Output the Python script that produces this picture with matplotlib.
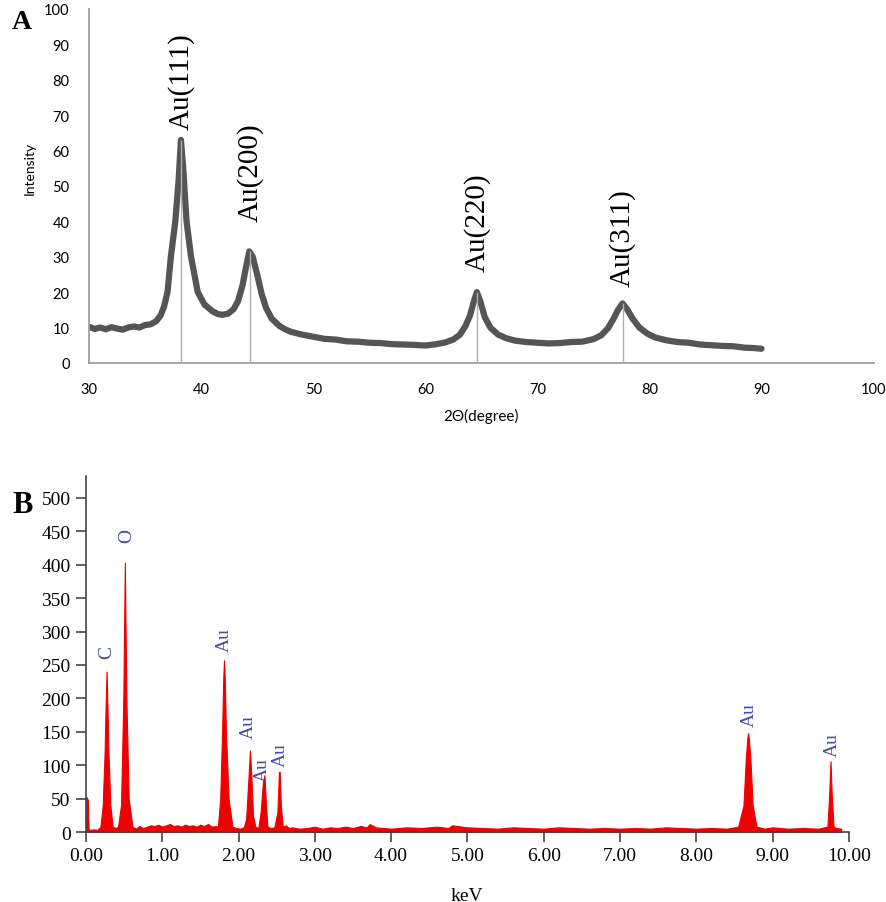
import matplotlib.pyplot as plt
import numpy as np

# XRD pattern (panel A)
xrd_2theta = [30, 30.5, 31, 31.5, 32, 32.5, 33, 33.5, 34, 34.5, 35, 35.5, 36, 36.4, 36.7,
              37.0, 37.3, 37.7, 38.0, 38.2, 38.4, 38.7, 39.1, 39.7, 40.3, 41, 41.5, 41.9,
              42.4, 42.9, 43.3, 43.7, 44.0, 44.3, 44.6, 45.0, 45.4, 45.8, 46.3, 47, 47.5,
              48, 49, 50, 51, 52, 53, 54, 55, 56, 57, 58, 59, 60, 61, 61.8, 62.5, 63.1,
              63.6, 64.0, 64.3, 64.6, 64.9, 65.3, 65.8, 66.5, 67.2, 68, 69, 70, 71, 72, 73,
              74, 75, 75.7, 76.3, 76.8, 77.2, 77.6, 78.0, 78.5, 79.1, 79.8, 80.5, 81.5,
              82.5, 83.5, 84.5, 85.5, 86.5, 87.5, 88.5, 89.3, 90]
xrd_int = [10.2, 9.6, 10.0, 9.5, 10.1, 9.7, 9.4, 10.0, 10.3, 10.0, 10.7, 10.9, 11.8, 13.5, 16,
           20, 30, 40, 52, 63, 55, 40, 30, 20, 16.5, 14.6, 13.8, 13.6,
           13.9, 15.2, 17.5, 22, 27, 31.5, 30, 25, 19.5, 15.5, 12.5, 10.4, 9.5,
           8.8, 8.0, 7.4, 6.8, 6.6, 6.1, 6.0, 5.7, 5.6, 5.3, 5.2, 5.1, 4.9, 5.3, 5.8, 6.6, 8.0,
           10.5, 13.5, 17, 20, 17.5, 13, 10, 8.0, 7.0, 6.3, 5.9, 5.7, 5.5, 5.6, 5.9,
           6.0, 6.7, 7.8, 9.8, 12.5, 15, 16.8, 15.2, 12.5, 10, 8.3, 7.2, 6.4,
           5.9, 5.7, 5.2, 5.0, 4.8, 4.7, 4.3, 4.2, 4.0]
xrd_peaks = [38.2, 44.35, 64.6, 77.6]
xrd_peak_int = [63, 31.5, 20, 16.8]
xrd_labels = ["Au(111)", "Au(200)", "Au(220)", "Au(311)"]
xrd_label_base = [66, 40, 26, 21.7]

# EDX spectrum (panel B)
edx_kev = [0.00, 0.005, 0.01, 0.025, 0.035, 0.05, 0.10, 0.15, 0.19, 0.22, 0.245, 0.26, 0.27,
           0.28, 0.295, 0.32, 0.35, 0.39, 0.42, 0.46, 0.49, 0.51, 0.53, 0.56, 0.61, 0.66,
           0.70, 0.75, 0.80, 0.85, 0.90, 0.95, 1.00, 1.05, 1.10, 1.15, 1.20, 1.25, 1.30,
           1.35, 1.40, 1.45, 1.50, 1.55, 1.60, 1.65, 1.70, 1.73, 1.76, 1.785, 1.80, 1.81,
           1.82, 1.835, 1.87, 1.92, 1.97, 2.02, 2.07, 2.10, 2.13, 2.15, 2.17, 2.19, 2.22,
           2.26, 2.29, 2.32, 2.34, 2.36, 2.38, 2.42, 2.47, 2.51, 2.53, 2.54, 2.555, 2.58,
           2.62, 2.66, 2.70, 2.80, 2.90, 3.00, 3.10, 3.20, 3.30, 3.40, 3.50, 3.60, 3.68,
           3.72, 3.80, 3.90, 4.00, 4.20, 4.40, 4.60, 4.75, 4.80, 5.00, 5.20, 5.40, 5.60,
           5.80, 6.00, 6.20, 6.40, 6.60, 6.80, 7.00, 7.20, 7.40, 7.60, 7.80, 8.00, 8.20,
           8.40, 8.55, 8.62, 8.65, 8.67, 8.68, 8.69, 8.71, 8.74, 8.79, 8.90, 9.00, 9.20,
           9.40, 9.60, 9.72, 9.745, 9.76, 9.775, 9.80, 9.83, 9.90]
edx_counts = [0, 52, 52, 48, 5, 3, 4, 3, 8, 40, 120, 200, 240,
              200, 120, 40, 8, 6, 8, 40, 200, 403, 200, 50, 8, 5,
              9, 6, 8, 10, 9, 11, 8, 10, 12, 9, 10, 8, 11,
              9, 10, 8, 11, 9, 12, 8, 9, 8, 50, 150, 230, 257,
              230, 150, 50, 8, 6, 5, 7, 20, 80, 122, 80, 25, 8,
              6, 30, 75, 85, 40, 8, 6, 7, 30, 90, 90, 40, 8,
              10, 6, 7, 5, 6, 8, 5, 7, 6, 8, 6, 9, 7,
              12, 7, 6, 5, 7, 6, 8, 6, 10, 7, 6, 5, 7,
              6, 5, 7, 6, 5, 6, 5, 6, 5, 7, 6, 5, 6,
              5, 8, 40, 110, 140, 148, 140, 110, 40, 8, 5, 7, 5,
              6, 5, 8, 60, 106, 60, 8, 6, 5]
edx_labels = ["C", "O", "Au", "Au", "Au", "Au", "Au", "Au"]
edx_label_x = [0.27, 0.53, 1.81, 2.13, 2.31, 2.55, 8.69, 9.78]
edx_label_y = [270, 445, 289, 158, 94, 117, 177, 132]

fig = plt.figure(figsize=(8.86, 9.03), dpi=100)
serif = "Liberation Serif"

# ---- panel A ----
ax1 = fig.add_axes([0.1005, 0.597, 0.8855, 0.392])
ax1.plot(xrd_2theta, xrd_int, color="#555555", lw=4.5, solid_capstyle="round",
         solid_joinstyle="round")
ax1.vlines(xrd_peaks, 0, xrd_peak_int, color="#b0b0b0", lw=1)
for x, y, s in zip(xrd_peaks, xrd_label_base, xrd_labels):
    ax1.text(x, y, s, rotation=90, ha="center", va="bottom", family=serif, fontsize=21)
ax1.set_xlim(30, 100)
ax1.set_ylim(0, 100)
ax1.set_xticks(np.arange(30, 101, 10))
ax1.set_yticks(np.arange(0, 101, 10))
ax1.tick_params(length=0, labelsize=10.5, pad=14)
for lab in ax1.get_xticklabels() + ax1.get_yticklabels():
    lab.set_family("Lato")
ax1.spines[["top", "right"]].set_visible(False)
ax1.spines[["left", "bottom"]].set_color("#a0a0a0")
ax1.spines[["left", "bottom"]].set_linewidth(1.3)
ax1.set_ylabel("Intensity", family="Lato", fontsize=10)
ax1.yaxis.set_label_coords(-0.068, 0.553)
ax1.set_xlabel("2Θ(degree)", family="Lato", fontsize=11, labelpad=8)
fig.text(0.025, 0.975, "A", family=serif, weight="bold", fontsize=20, va="center", ha="center")

# ---- panel B ----
ax2 = fig.add_axes([0.097, 0.0775, 0.861, 0.3945])
ax2.fill_between(edx_kev, 0, edx_counts, color="#ee0000", lw=0.8, edgecolor="#ee0000")
for x, y, s in zip(edx_label_x, edx_label_y, edx_labels):
    ax2.text(x, y, s, rotation=90, ha="center", va="center", family=serif,
             fontsize=14, color="#4a4aa8")
ax2.set_xlim(0, 10)
ax2.set_ylim(0, 533)
ax2.set_xticks(np.arange(0, 10.01, 1))
ax2.set_xticklabels([f"{v:.2f}" for v in np.arange(0, 10.01, 1)])
ax2.set_yticks(np.arange(0, 501, 50))
ax2.tick_params(length=7, width=1.2, color="#444444", labelsize=14, pad=4)
for lab in ax2.get_xticklabels() + ax2.get_yticklabels():
    lab.set_family(serif)
ax2.spines[["top", "right"]].set_visible(False)
ax2.spines[["left", "bottom"]].set_color("#444444")
ax2.spines[["left", "bottom"]].set_linewidth(1.2)
ax2.set_xlabel("keV", family=serif, fontsize=14, labelpad=16)
fig.text(0.025, 0.44, "B", family=serif, weight="bold", fontsize=22, va="center", ha="center")

fig.savefig("out.png", dpi=100)
